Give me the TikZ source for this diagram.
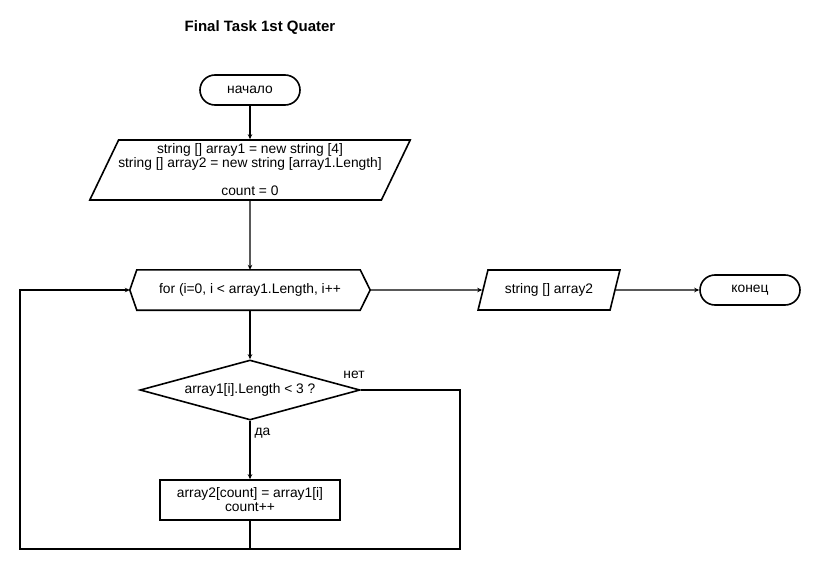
\documentclass[tikz,border=0pt]{standalone}
\usepackage{fontspec}
\setmainfont{Liberation Sans}
\usetikzlibrary{shapes.geometric,arrows.meta}
\begin{document}
\begin{tikzpicture}[x=1pt,y=-1pt,
  every node/.style={font=\fontsize{13.8}{14}\selectfont},
  shp/.style={draw=black,line width=1.6pt,inner sep=0pt,align=center},
  term/.style={shp,rectangle,rounded corners=15pt,minimum width=100pt,minimum height=30pt},
  para/.style={shp,trapezium,trapezium left angle=61,trapezium right angle=119,trapezium stretches=true},
  proc/.style={shp,rectangle,minimum width=180pt,minimum height=40pt},
  dec/.style={shp,diamond,aspect=3.67,minimum width=220pt,minimum height=60pt},
  conn/.style={line width=1.4pt,draw=black},
  arr/.style={conn,-{Stealth[length=5pt,width=4.5pt]}},
  lbl/.style={inner sep=1pt}]
\useasboundingbox (0,0) rectangle (820,570);
\node[font=\fontsize{15}{16}\selectfont\bfseries] (title) at (260,28) {Final Task 1st Quater};
\node[term] (start) at (250,90) {начало};
\node[para,minimum width=322pt,minimum height=60pt] (init) at (250,170) {string [] array1 = new string [4]\\string [] array2 = new string [array1.Length]\\[14pt]count = 0};
\node[minimum width=240pt,minimum height=40pt,inner sep=0pt] (loop) at (250,290) {for (i=0, i < array1.Length, i++};
\draw[line width=1.6pt,line join=miter] (loop.west) -- ([xshift=7pt]loop.north west) -- ([xshift=-10pt]loop.north east) -- (loop.east) -- ([xshift=-10pt]loop.south east) -- ([xshift=7pt]loop.south west) -- cycle;
\node[dec] (cond) at (250,390) {array1[i].Length < 3 ?};
\node[proc] (body) at (250,500) {array2[count] = array1[i]\\count++};
\node[para,minimum width=142pt,minimum height=40pt] (out) at (549,290) {string [] array2};
\node[term] (end) at (750,290) {конец};
\coordinate (bl) at (20,549);
\coordinate (br) at (460,549);
\draw[arr] (start) -- (init);
\draw[arr] (init) -- (loop);
\draw[arr] (loop) -- (cond);
\draw[arr] (cond) -- node[lbl,pos=0.22,right=3pt] {да} (body);
\draw[arr] (loop.east) -- (out);
\draw[arr] (out) -- (end);
\draw[arr] (body.south) |- (bl) |- (loop.west);
\draw[conn] (cond.east) -| (br) -- (body.south |- br);
\node[lbl] (no) at (354,375) {нет};
\end{tikzpicture}
\end{document}
